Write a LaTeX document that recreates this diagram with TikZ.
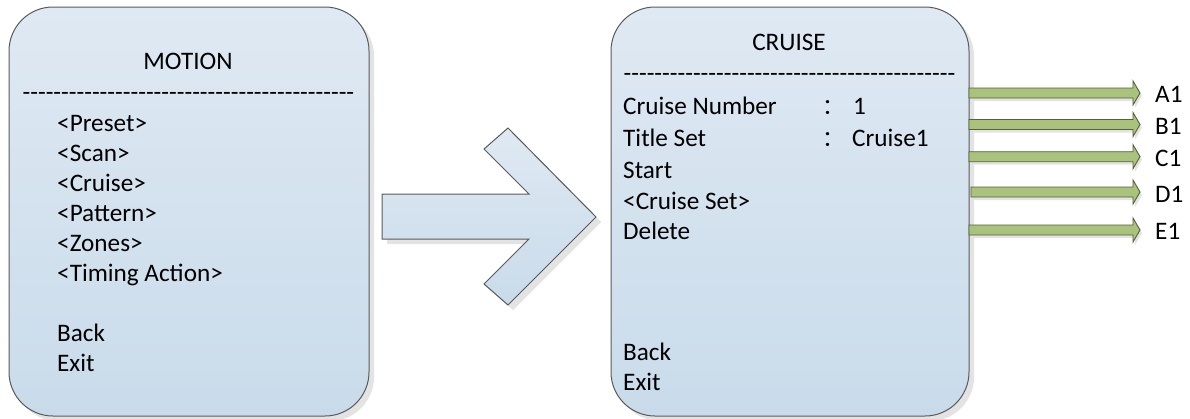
\documentclass[tikz,border=0pt]{standalone}
\usepackage{fontspec}
\setmainfont{Carlito}
\newfontfamily\cjk{Noto Sans CJK SC}
\usetikzlibrary{shadows}
\definecolor{boxtop}{HTML}{DFE9F3}
\definecolor{boxbot}{HTML}{C9DBEA}
\definecolor{boxline}{HTML}{5A5A5A}
\definecolor{grfill}{HTML}{A9C27C}
\definecolor{grline}{HTML}{55613A}
\definecolor{shad}{HTML}{E3E3E3}
\newcommand\hyrow[1]{\foreach\i in {1,...,#1}{-\kern0pt}}
\tikzset{
  menubox/.style={draw=boxline, line width=1pt, rounded corners=44pt,
    top color=boxtop, bottom color=boxbot,
    drop shadow={shadow xshift=5pt, shadow yshift=-5pt, fill=shad, opacity=1}},
  bigarrow/.style={draw=boxline, line width=1pt, top color=boxtop, bottom color=boxbot,
    drop shadow={shadow xshift=5pt, shadow yshift=-5pt, fill=shad, opacity=1}},
  grarrow/.style={draw=grline, line width=0.9pt, fill=grfill,
    drop shadow={shadow xshift=2pt, shadow yshift=-3pt, fill=shad, opacity=1}},
  txt/.style={anchor=base west, inner sep=0pt, font=\fontsize{25.2}{30}\selectfont, text=black},
  ctxt/.style={anchor=base, inner sep=0pt, font=\fontsize{25.2}{30}\selectfont, text=black},
  colon/.style={anchor=base, inner sep=0pt, font=\cjk\fontsize{22}{26}\selectfont, text=black},
}
\begin{document}
\begin{tikzpicture}[x=1pt,y=-1pt]
\useasboundingbox (0,0) rectangle (1190,418);
% left box
\node[menubox, minimum width=360pt, minimum height=409pt, inner sep=0pt] (motion) at (189,211.5) {};
\node[ctxt] (mtitle) at (188,69.3) {MOTION};
\node[ctxt] (mdash) at (188.5,100) {\hyrow{43}};
\node[txt] (m1) at (57,131) {<Preset>};
\node[txt] (m2) at (57,161) {<Scan>};
\node[txt] (m3) at (57,191) {<Cruise>};
\node[txt] (m4) at (57,221) {<Pattern>};
\node[txt] (m5) at (57,251) {<Zones>};
\node[txt] (m6) at (57,281) {<Timing Action>};
\node[txt] (m7) at (57,341.7) {Back};
\node[txt] (m8) at (57,371.7) {Exit};
% big arrow
\path[bigarrow] (382,194) -- (529,194) -- (484,149) -- (508,128) -- (596,217)
  -- (508,305) -- (484,284) -- (529,239) -- (382,239) -- cycle;
% right box
\node[menubox, minimum width=358pt, minimum height=409pt, inner sep=0pt] (cruise) at (790,211.5) {};
\node[ctxt] (ctitle) at (789,50.7) {CRUISE};
\node[ctxt] (cdash) at (789.5,81) {\hyrow{43}};
\node[txt] (c1) at (623,114.3) {Cruise Number};
\node[colon] (c1c) at (833,114.3) {：};
\node[txt] (c1v) at (853,114.3) {1};
\node[txt] (c2) at (623,146.7) {Title Set};
\node[colon] (c2c) at (833,146.7) {：};
\node[txt] (c2v) at (852,146.7) {Cruise1};
\node[txt] (c3) at (623,178.3) {Start};
\node[txt] (c4) at (623,209) {<Cruise Set>};
\node[txt] (c5) at (623,239) {Delete};
\node[txt] (c6) at (623,360) {Back};
\node[txt] (c7) at (623,390) {Exit};
% green arrows and labels
\foreach \nm/\lab/\ya/\yl/\xs in {a/A1/93/102/969, b/B1/124.5/134/969, c/C1/156.7/166/969, d/D1/192/202.7/971, e/E1/230/239/969}{
  \path[grarrow] (\xs,\ya-5) -- (1133,\ya-5) -- (1133,\ya-12) -- (1140,\ya)
    -- (1133,\ya+12) -- (1133,\ya+5) -- (\xs,\ya+5) -- cycle;
  \node[txt] (l\nm) at (1155,\yl) {\lab};
}
\end{tikzpicture}
\end{document}
